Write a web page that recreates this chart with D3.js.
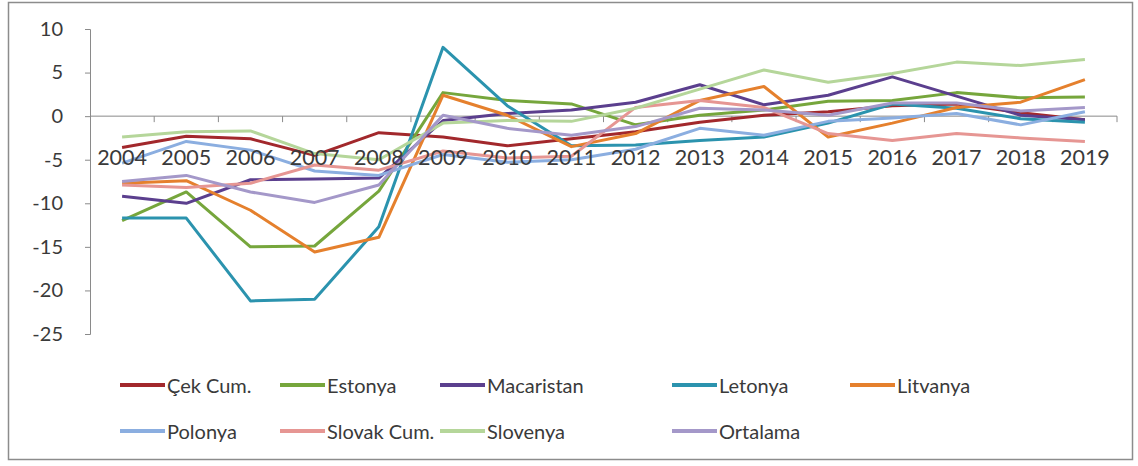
<!DOCTYPE html>
<html>
<head>
<meta charset="utf-8">
<script src="https://d3js.org/d3.v7.min.js"></script>
<style>
  body { margin: 0; background: #fff; }
  text { font-family: Lato, "Open Sans", sans-serif; fill: #3a3a3a; }
</style>
</head>
<body>
<svg id="chart" width="1138" height="466"></svg>
<script>
// Years on the category axis
const years = ["2004", "2005", "2006", "2007", "2008", "2009", "2010", "2011",
  "2012", "2013", "2014", "2015", "2016", "2017", "2018", "2019"];

// Series values
const cekCum = [-3.6, -2.3, -2.6, -4.5, -1.9, -2.4, -3.4, -2.6, -1.8, -0.7, 0.1, 0.5, 1.2, 1.4, 0.4, -0.4];
const estonya = [-12.0, -8.7, -15.0, -14.9, -8.6, 2.7, 1.8, 1.4, -1.0, 0.1, 0.7, 1.7, 1.8, 2.7, 2.1, 2.2];
const macaristan = [-9.2, -10.0, -7.3, -7.2, -7.1, -0.5, 0.3, 0.7, 1.6, 3.6, 1.3, 2.4, 4.5, 2.3, 0.1, -0.4];
const letonya = [-11.7, -11.7, -21.2, -21.0, -12.7, 7.9, 1.2, -3.4, -3.3, -2.8, -2.4, -0.8, 1.4, 0.9, -0.3, -0.7];
const litvanya = [-7.7, -7.4, -10.8, -15.6, -13.9, 2.4, 0.1, -3.5, -2.0, 1.8, 3.4, -2.4, -0.8, 1.0, 1.6, 4.2];
const polonya = [-5.4, -2.9, -3.9, -6.3, -6.8, -4.4, -5.3, -5.0, -3.8, -1.4, -2.2, -0.6, -0.2, 0.3, -1.0, 0.5];
const slovakCum = [-7.9, -8.2, -7.7, -5.6, -6.2, -4.0, -4.8, -4.6, 1.0, 1.8, 1.0, -2.0, -2.8, -2.0, -2.5, -2.9];
const slovenya = [-2.4, -1.8, -1.7, -4.3, -5.0, -0.8, -0.5, -0.6, 0.9, 3.1, 5.3, 3.9, 4.9, 6.2, 5.8, 6.5];
const ortalama = [-7.5, -6.8, -8.7, -9.9, -7.9, 0.1, -1.4, -2.2, -1.2, 0.9, 0.7, 0.1, 1.5, 1.5, 0.6, 1.0];

const seriesNames = ["Çek Cum.", "Estonya", "Macaristan", "Letonya", "Litvanya",
  "Polonya", "Slovak Cum.", "Slovenya", "Ortalama"];
const seriesValues = [cekCum, estonya, macaristan, letonya, litvanya,
  polonya, slovakCum, slovenya, ortalama];
const seriesColours = ["#a2282c", "#76a63c", "#5b3f8e", "#2b93ae", "#e5802d",
  "#8baee0", "#e69693", "#b5d69a", "#a498c9"];

const yTicks = [10, 5, 0, -5, -10, -15, -20, -25];

const svg = d3.select("#chart");

// outer frame
svg.append("rect")
  .attr("x", 8.5).attr("y", 2.5)
  .attr("width", 1124).attr("height", 457)
  .attr("fill", "#fff")
  .attr("stroke", "#8c8c8c")
  .attr("stroke-width", 1.5);

const x = d3.scaleBand().domain(years).range([90, 1117]);
const y = d3.scaleLinear().domain([-25, 10]).range([334, 29]);
const cx = (yr) => x(yr) + x.bandwidth() / 2;

// y axis
const yAxis = svg.append("g")
  .attr("transform", "translate(90,0)")
  .call(d3.axisLeft(y).tickValues(yTicks).tickSize(5).tickPadding(22)
    .tickFormat(d3.format("d")));
yAxis.select(".domain").attr("stroke", "#8a8a8a");
yAxis.selectAll(".tick line").attr("stroke", "#8a8a8a");
yAxis.selectAll("text")
  .attr("font-size", 20)
  .attr("font-family", "Lato, sans-serif")
  .attr("fill", "#3a3a3a")
  .text((d) => (d < 0 ? "-" + Math.abs(d) : d));

// x axis at zero, ticks on category boundaries
const xg = svg.append("g");
xg.append("line")
  .attr("x1", 90).attr("x2", 1117)
  .attr("y1", y(0)).attr("y2", y(0))
  .attr("stroke", "#8a8a8a");
const boundaries = years.map((yr) => x(yr) + x.bandwidth()).slice();
xg.selectAll("line.tk")
  .data(boundaries)
  .join("line")
  .attr("class", "tk")
  .attr("x1", (d) => d).attr("x2", (d) => d)
  .attr("y1", y(0)).attr("y2", y(0) + 6)
  .attr("stroke", "#8a8a8a");

// series lines
const line = d3.line()
  .x((d, i) => cx(years[i]))
  .y((d) => y(d));

svg.append("g")
  .selectAll("path")
  .data(seriesValues)
  .join("path")
  .attr("fill", "none")
  .attr("stroke", (d, i) => seriesColours[i])
  .attr("stroke-width", 3)
  .attr("stroke-linejoin", "round")
  .attr("d", line);

// category labels drawn over the lines like the original
svg.append("g")
  .selectAll("text")
  .data(years)
  .join("text")
  .attr("x", (d) => cx(d))
  .attr("y", 165)
  .attr("text-anchor", "middle")
  .attr("font-size", 21.5)
  .text((d) => d);

// legend
const legendCols = [120, 280, 440, 672, 850];
const legendRows = [385, 431];
const legend = svg.append("g")
  .selectAll("g")
  .data(seriesNames)
  .join("g")
  .attr("transform", (d, i) =>
    `translate(${i < 5 ? legendCols[i] : legendCols[i - 5]},${i < 5 ? legendRows[0] : legendRows[1]})`);

legend.append("line")
  .attr("x1", 0).attr("x2", 45)
  .attr("stroke", (d, i) => seriesColours[i])
  .attr("stroke-width", 4);

legend.append("text")
  .attr("x", 47)
  .attr("dominant-baseline", "central")
  .attr("font-size", 20)
  .text((d) => d);
</script>
</body>
</html>
